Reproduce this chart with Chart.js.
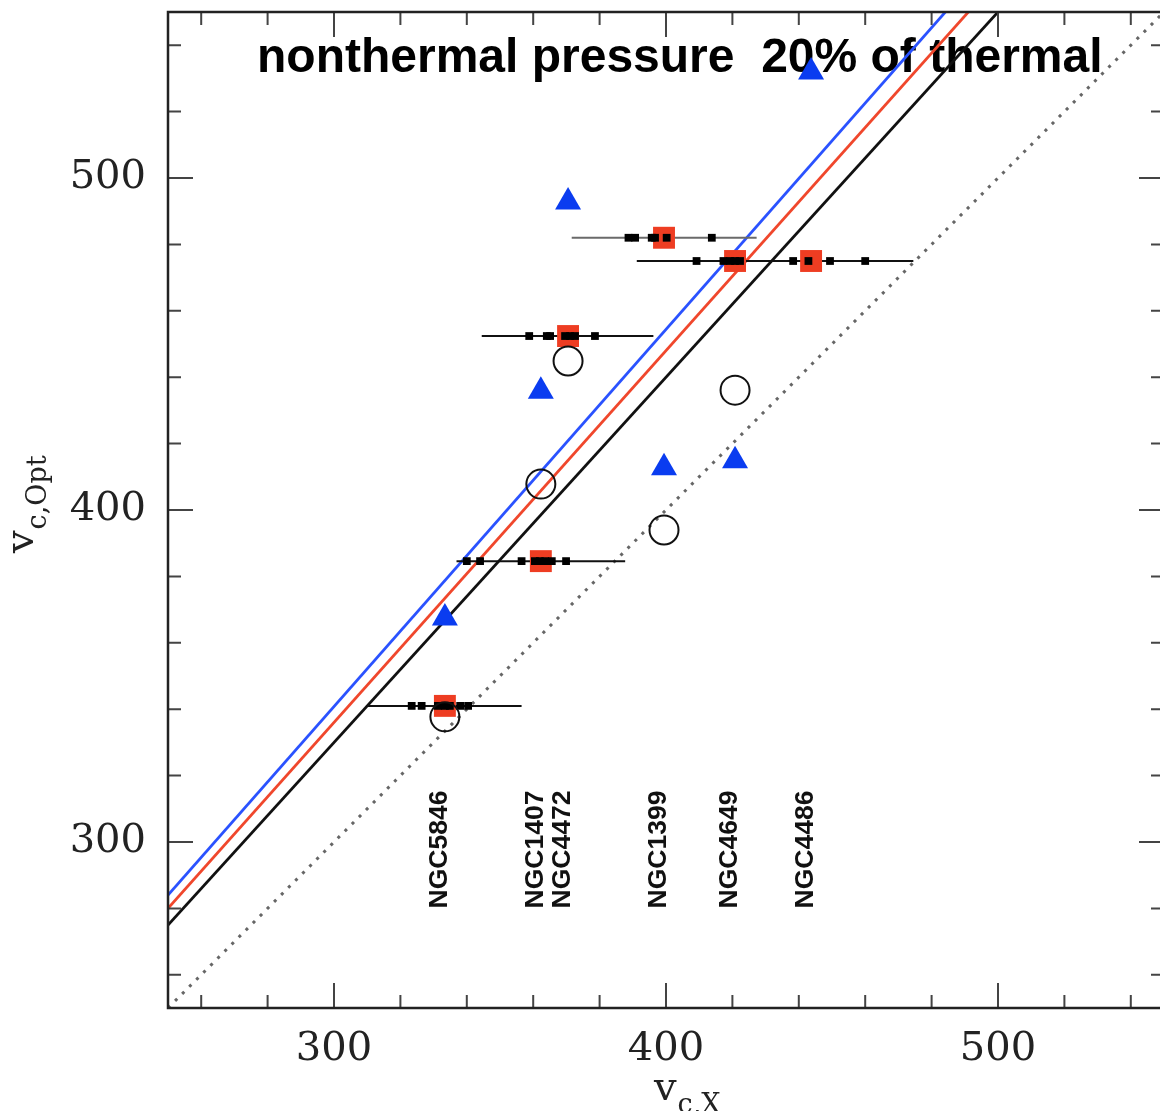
<!DOCTYPE html>
<html>
<head>
<meta charset="utf-8">
<script src="https://cdn.jsdelivr.net/npm/chart.js@4.4.0/dist/chart.umd.min.js"></script>
<style>
  html, body { margin: 0; padding: 0; background: #fff; overflow: hidden; }
  #wrap { width: 1170px; height: 1111px; }
</style>
</head>
<body>
<div id="wrap"><canvas id="vcChart" width="1170" height="1111"></canvas></div>
<script>
// galaxies and their X-ray circular velocities
const galaxies = ["NGC5846", "NGC1407", "NGC4472", "NGC1399", "NGC4649", "NGC4486"];
const vcX = [333.4, 362.3, 370.5, 399.4, 420.8, 443.7];
// red squares (with horizontal ranges)
const vcOptSquare = [341, 384.6, 452.4, 482, 475, 475];
const errLow = [309.8, 336.9, 344.5, 371.6, 391.2, 420];
const errHigh = [356.5, 387.7, 396.2, 427.3, 445, 474.5];
// individual measurements along each range
const subX = [
  [323.4, 326.4, 331.3, 333.4, 334.9, 338, 340.4],
  [340, 344, 356.5, 360.5, 362, 363.6, 365.6, 369.9],
  [358.8, 364.1, 365.1, 369.6, 371.1, 372.6, 378.6],
  [388.7, 390.7, 395.7, 396.7, 400.2, 413.8],
  [409.2, 417.3, 419.3, 420.8, 422.3],
  [438.3, 442.9, 449.4, 460]
];
// blue triangles
const vcOptTriangle = [367.5, 435.8, 492.8, 412.7, 414.8, 531.9];
// open circles (none for NGC4486)
const vcOptCircle = [337.7, 407.8, 444.9, 394, 436.1];
// model lines v_opt = slope * v_X
const slopeBlue = 1.136;
const slopeRed = 1.12;
const slopeBlack = 1.1;
const slopeOne = 1.0;
const axisMin = 250, axisMax = 550;
const majorTicks = [300, 400, 500];
const minorStep = 20;
const labelY = 280;
const titleText = "nonthermal pressure  20% of thermal";

const lineData = (k) => [{ x: axisMin, y: axisMin * k }, { x: axisMax, y: axisMax * k }];

const triangles = vcX.map((x, i) => ({ x: x, y: vcOptTriangle[i] }));
const circles = vcOptCircle.map((y, i) => ({ x: vcX[i], y: y }));
const squares = vcX.map((x, i) => ({ x: x, y: vcOptSquare[i] }));
const smallPts = [];
subX.forEach((arr, i) => arr.forEach((x) => smallPts.push({ x: x, y: vcOptSquare[i] })));

const errSets = galaxies.map((g, i) => ({
  type: "line",
  label: "range " + g,
  data: [{ x: errLow[i], y: vcOptSquare[i] }, { x: errHigh[i], y: vcOptSquare[i] }],
  borderColor: i === 3 ? "#6a6a6a" : "#111",
  borderWidth: 2,
  pointRadius: 0,
}));

// frame + inward ticks on all four sides
const frameTicks = {
  id: "frameTicks",
  afterDatasetsDraw(chart) {
    const { ctx, chartArea: a, scales } = chart;
    ctx.save();
    ctx.strokeStyle = "#444";
    ctx.lineWidth = 2;
    const start = Math.ceil(axisMin / minorStep) * minorStep;
    for (let v = start; v <= axisMax; v += minorStep) {
      const len = v % 100 === 0 ? 25 : 13;
      const px = scales.x.getPixelForValue(v);
      const py = scales.y.getPixelForValue(v);
      ctx.beginPath();
      ctx.moveTo(px, a.bottom); ctx.lineTo(px, a.bottom - len);
      ctx.moveTo(px, a.top); ctx.lineTo(px, a.top + len);
      ctx.moveTo(a.left, py); ctx.lineTo(a.left + len, py);
      ctx.moveTo(a.right, py); ctx.lineTo(a.right - len, py);
      ctx.stroke();
    }
    ctx.lineWidth = 2.5;
    ctx.strokeStyle = "#222";
    ctx.strokeRect(a.left, a.top, a.right - a.left, a.bottom - a.top);
    ctx.restore();
  },
};

// title inside the plot, behind the markers
const innerTitle = {
  id: "innerTitle",
  beforeDatasetsDraw(chart) {
    const { ctx, chartArea: a } = chart;
    ctx.save();
    ctx.font = "bold 48px 'Liberation Sans', Arial, sans-serif";
    ctx.fillStyle = "#000";
    ctx.textBaseline = "alphabetic";
    ctx.fillText(titleText, a.left + 89, a.top + 60);
    ctx.restore();
  },
};

// rotated galaxy names
const galaxyLabels = {
  id: "galaxyLabels",
  afterDatasetsDraw(chart) {
    const { ctx, scales } = chart;
    ctx.save();
    ctx.font = "bold 26.5px 'Liberation Sans', Arial, sans-serif";
    ctx.fillStyle = "#111";
    ctx.textAlign = "left";
    ctx.textBaseline = "alphabetic";
    galaxies.forEach((g, i) => {
      ctx.save();
      ctx.translate(scales.x.getPixelForValue(vcX[i]) + 2, scales.y.getPixelForValue(labelY));
      ctx.rotate(-Math.PI / 2);
      ctx.fillText(g, 0, 0);
      ctx.restore();
    });
    ctx.restore();
  },
};

// axis titles with subscripts
function subText(ctx, main, sub, x, y) {
  ctx.font = "40px 'DejaVu Serif', serif";
  ctx.fillText(main, x, y);
  const w = ctx.measureText(main).width;
  ctx.font = "27px 'DejaVu Serif', serif";
  ctx.fillText(sub, x + w + 1, y + 13);
}
const axisTitles = {
  id: "axisTitles",
  afterDraw(chart) {
    const { ctx } = chart;
    ctx.save();
    ctx.fillStyle = "#222";
    ctx.textBaseline = "alphabetic";
    subText(ctx, "v", "c,X", 654, 1100);
    ctx.translate(33, 553);
    ctx.rotate(-Math.PI / 2);
    subText(ctx, "v", "c,Opt", 0, 0);
    ctx.restore();
  },
};

const tickFont = { family: "'DejaVu Serif', serif", size: 40 };
const noPad = (s) => { s.paddingTop = 0; s.paddingBottom = 0; s.paddingLeft = 0; s.paddingRight = 0; };

new Chart(document.getElementById("vcChart"), {
  type: "scatter",
  data: {
    datasets: [
      {
        label: "triangles",
        data: triangles,
        pointStyle: "triangle",
        pointRadius: 15,
        backgroundColor: "#0a3cf0",
        borderColor: "#0a3cf0",
        borderWidth: 0,
      },
      {
        label: "circles",
        data: circles,
        pointStyle: "circle",
        pointRadius: 14.5,
        backgroundColor: "rgba(255,255,255,0)",
        borderColor: "#111",
        borderWidth: 2,
      },
      {
        label: "measurements",
        data: smallPts,
        pointStyle: "rect",
        pointRadius: 5.5,
        backgroundColor: "#000",
        borderWidth: 0,
      },
      {
        label: "squares",
        data: squares,
        pointStyle: "rect",
        pointRadius: 15.5,
        backgroundColor: "#ee3d22",
        borderWidth: 0,
      },
      ...errSets,
      { type: "line", label: "blue", data: lineData(slopeBlue), borderColor: "#2a52ff", borderWidth: 2.8, pointRadius: 0, clip: 0 },
      { type: "line", label: "red", data: lineData(slopeRed), borderColor: "#f0472c", borderWidth: 2.8, pointRadius: 0, clip: 0 },
      { type: "line", label: "black", data: lineData(slopeBlack), borderColor: "#111", borderWidth: 2.8, pointRadius: 0, clip: 0 },
      { type: "line", label: "one-to-one", data: lineData(slopeOne), borderColor: "#666", borderWidth: 3, borderDash: [3, 7], pointRadius: 0, clip: 0 },
    ],
  },
  plugins: [innerTitle, frameTicks, galaxyLabels, axisTitles],
  options: {
    responsive: false,
    animation: false,
    devicePixelRatio: 1,
    layout: { autoPadding: false, padding: { top: 12, right: 6, left: 0, bottom: 0 } },
    plugins: { legend: { display: false }, tooltip: { enabled: false } },
    scales: {
      x: {
        type: "linear",
        min: axisMin,
        max: axisMax,
        afterBuildTicks: (s) => { s.ticks = majorTicks.map((v) => ({ value: v })); },
        afterFit: (s) => { s.height = 103; noPad(s); },
        grid: { display: false, drawTicks: false },
        border: { display: false },
        ticks: { font: tickFont, color: "#222", padding: 18, maxRotation: 0, autoSkip: false },
      },
      y: {
        type: "linear",
        min: axisMin,
        max: axisMax,
        afterBuildTicks: (s) => { s.ticks = majorTicks.map((v) => ({ value: v })); },
        afterFit: (s) => { s.width = 168; noPad(s); },
        grid: { display: false, drawTicks: false },
        border: { display: false },
        ticks: { font: tickFont, color: "#222", padding: 22, autoSkip: false },
      },
    },
  },
});
</script>
</body>
</html>
